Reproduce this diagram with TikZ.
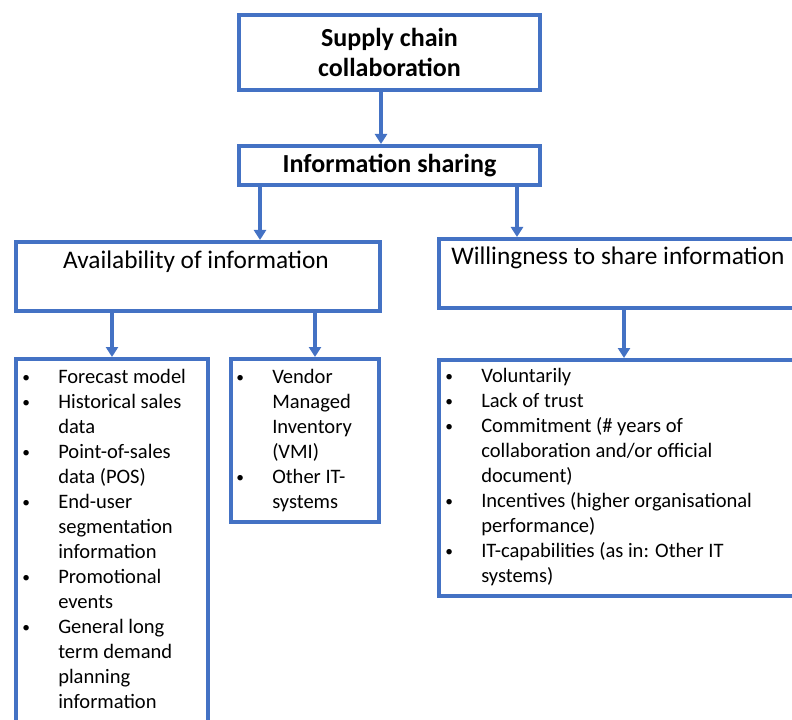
\documentclass[tikz,border=0pt]{standalone}
\usepackage{fontspec}
\usepackage{graphicx}
\setmainfont{Carlito}
\usetikzlibrary{arrows.meta}
\definecolor{chainblue}{HTML}{4472C4}
% bullet with hanging indent, and a line break inside an item
\newcommand{\bitem}{\par\noindent\hangindent=27pt\hangafter=1%
  \makebox[27pt][l]{\raisebox{0.6pt}{\scalebox{0.75}{\textbullet}}}}
\newcommand{\nl}{\hfil\break}
\tikzset{
  >={Triangle[width=9pt,length=7.5pt]},
  box/.style ={draw=chainblue, line width=3pt, anchor=north west, inner sep=0},
  boxdim/.style 2 args ={minimum width=#1*0.75pt, minimum height=#2*0.75pt},
  flow/.style ={->, draw=chainblue, line width=3pt},
  headline/.style ={align=center, font=\bfseries\fontsize{19.5pt}{22.5pt}\selectfont},
  title/.style ={anchor=base, inner sep=0, font=\fontsize{19pt}{23pt}\selectfont},
  items/.style ={anchor=base west, inner sep=0,
                 font=\fontsize{15.4pt}{18.75pt}\selectfont},
}
\begin{document}
\begin{tikzpicture}[x=0.75pt,y=-0.75pt]
\useasboundingbox (0,0) rectangle (792,720);
\clip (0,0) rectangle (792,720);
% boxes
\node[box, boxdim={301}{75}, headline] (chain) at (237,13) {Supply chain\\collaboration};
\node[box, boxdim={301}{39}, headline] (info) at (237,144) {Information sharing};
\node[box, boxdim={364}{69}] (avail) at (14,240) {};
\node[box, boxdim={363}{69}] (will) at (437,237) {};
\node[box, boxdim={192}{383}] (lst1) at (14,357) {};
\node[box, boxdim={148}{163}] (lst2) at (229,357) {};
\node[box, boxdim={363}{236}] (lst3) at (437,358) {};
% titles
\node[title] (availtext) at (196,268) {Availability of information};
\node[title, anchor=base west] (willtext) at (451,264) {Willingness to share information};
% lists
\node[items] (lst1text) at (22,383) {\parbox[t]{150pt}{\raggedright
  \bitem Forecast model
  \bitem Historical sales\nl data
  \bitem Point-of-sales\nl data (POS)
  \bitem End-user\nl segmentation\nl information
  \bitem Promotional\nl events
  \bitem General long\nl term demand\nl planning\nl information}};
\node[items] (lst2text) at (236,383) {\parbox[t]{120pt}{\raggedright
  \bitem Vendor\nl Managed\nl Inventory\nl (VMI)
  \bitem Other IT-\nl systems}};
\node[items] (lst3text) at (445,382) {\parbox[t]{260pt}{\raggedright
  \bitem Voluntarily
  \bitem Lack of trust
  \bitem Commitment (\# years of\nl collaboration and/or official\nl document)
  \bitem Incentives (higher organisational\nl performance)
  \bitem IT-capabilities (as in: Other IT\nl systems)}};
% connectors
\draw[flow] ([xshift=-6.375pt]chain.south) -- ([xshift=-6.375pt]chain.south |- info.north);
\draw[flow] ([xshift=-97.125pt]info.south) -- ([xshift=-97.125pt]info.south |- avail.north);
\draw[flow] ([xshift=95.625pt]info.south) -- ([xshift=95.625pt]info.south |- will.north);
\draw[flow] (avail.south -| lst1.north) -- (lst1.north);
\draw[flow] ([xshift=7.5pt]lst2.north |- avail.south) -- ([xshift=7.5pt]lst2.north);
\draw[flow] ([xshift=2.625pt]will.south) -- ([xshift=2.625pt]will.south |- lst3.north);
\end{tikzpicture}
\end{document}
